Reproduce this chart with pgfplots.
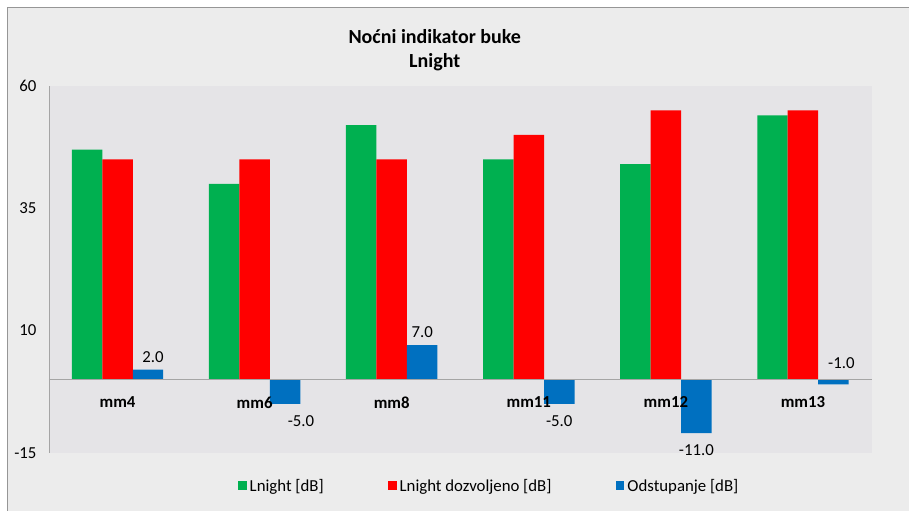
\documentclass[border=0pt]{standalone}
\usepackage{pgfplots}
\pgfplotsset{compat=1.18}
\usepackage{fontspec}
\setmainfont{Carlito}
\definecolor{cgreen}{RGB}{0,176,80}
\definecolor{cred}{RGB}{255,0,0}
\definecolor{cblue}{RGB}{0,112,192}
\definecolor{plotbg}{RGB}{229,228,231}
\definecolor{outerbg}{RGB}{236,236,236}
\definecolor{axgray}{RGB}{165,165,165}
\definecolor{framegray}{RGB}{150,150,150}
\pgfplotstableread{
x lnight dozv odst
0 47 45 2
1 40 45 -5
2 52 45 7
3 45 50 -5
4 44 55 -11
5 54 55 -1
}\datatab
\begin{document}
\begin{tikzpicture}[x=1bp,y=1bp]
\fill[white] (0,0) rectangle (909,511);
\fill[outerbg] (8,0) rectangle (909,503);
\draw[framegray, line width=1bp] (8,0) -- (8,503) -- (909,503);
\node[font=\bfseries\fontsize{20bp}{24bp}\selectfont, align=center] at (435,461) {Noćni indikator buke\\Lnight};
\begin{axis}[
  at={(49bp,58bp)}, anchor=south west,
  width=823bp, height=367bp, scale only axis,
  xmin=-0.5, xmax=5.5, ymin=-15, ymax=60,
  ytick={-15,10,35,60},
  xtick={0,...,5},
  xticklabels={mm4,mm6,mm8,mm11,mm12,mm13},
  axis x line*=middle, axis y line*=left,
  axis line style={axgray, line width=0.8bp},
  axis background/.style={fill=plotbg},
  axis on top,
  major tick length=0pt,
  /pgf/number format/assume math mode=true,
  yticklabel style={font=\fontsize{16.8bp}{20bp}\selectfont, xshift=-9bp},
  xticklabel style={font=\bfseries\fontsize{16.8bp}{20bp}\selectfont, yshift=-14bp},
  ybar=0pt, bar width=30.5bp,
  legend columns=3,
  legend style={at={(axis description cs:0.535,-0.09)}, anchor=center, draw=none, fill=none,
    font=\fontsize{16.8bp}{20bp}\selectfont,
    /tikz/every even column/.append style={column sep=62bp},
    /tikz/every odd column/.append style={column sep=1bp}},
  legend image code/.code={\fill[#1] (0bp,-4.5bp) rectangle (9bp,4.5bp);},
  clip=false,
]
\addplot[fill=cgreen, draw=none] table[x=x, y=lnight] {\datatab};
\addlegendentry{Lnight [dB]}
\addplot[fill=cred, draw=none] table[x=x, y=dozv] {\datatab};
\addlegendentry{Lnight dozvoljeno [dB]}
\addplot[fill=cblue, draw=none,
  visualization depends on={rawy \as \ry},
  visualization depends on={rawx \as \rx},
  nodes near coords,
  nodes near coords style={font=\fontsize{16.8bp}{20bp}\selectfont,
     /pgf/number format/fixed, /pgf/number format/fixed zerofill, /pgf/number format/precision=1},
  every node near coord/.append style={anchor=center,
     xshift={\rx<0.5 ? 5 : (\rx<1.5 ? 16 : (\rx>4.5 ? 8 : 0))},
     yshift={\ry<-2 ? -17 : (\ry<0 ? 21 : 13)}},
  ] table[x=x, y=odst] {\datatab};
\addlegendentry{Odstupanje [dB]}
\end{axis}
\end{tikzpicture}
\end{document}
